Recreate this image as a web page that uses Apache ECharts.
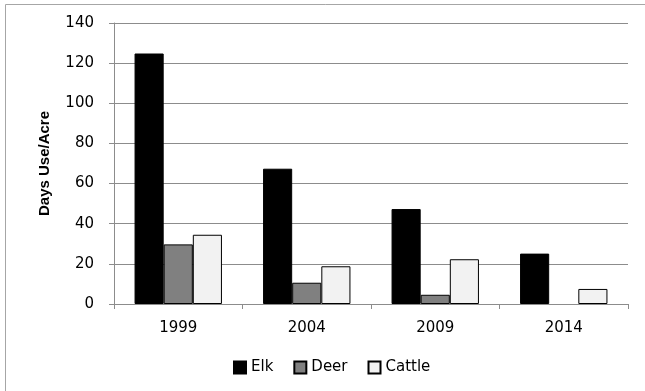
<!DOCTYPE html>
<html>
<head>
<meta charset="utf-8">
<script src="https://cdn.jsdelivr.net/npm/echarts@6/dist/echarts.min.js"></script>
<style>html,body{margin:0;padding:0;background:#fff}#c{width:645px;height:391px}</style>
</head>
<body>
<div id="c"></div>
<script>
const categories = ['1999', '2004', '2009', '2014'];
const elk = [124.8, 67.4, 47.3, 25.1];
const deer = [29.7, 10.6, 4.6, null];
const cattle = [34.5, 18.8, 22.3, 7.5];
const seriesNames = ['Elk', 'Deer', 'Cattle'];
const yTicks = { min: 0, max: 140, interval: 20 };

const chart = echarts.init(document.getElementById('c'), null, { renderer: 'canvas' });
const font = 'DejaVu Sans';
const gridColor = '#8c8c8c';
const colors = ['#000000', '#808080', '#f2f2f2'];
const seriesData = [elk, deer, cattle];

chart.setOption({
  animation: false,
  backgroundColor: '#ffffff',
  textStyle: { fontFamily: font },
  graphic: [{
    type: 'rect',
    shape: { x: 5.5, y: 4.5, width: 700, height: 500 },
    style: { fill: 'none', stroke: '#a6a6a6', lineWidth: 1 },
    silent: true
  }],
  grid: { left: 114, right: 17, top: 23, bottom: 87 },
  legend: {
    data: seriesNames,
    bottom: 11,
    left: 228,
    itemWidth: 12,
    itemHeight: 12,
    itemGap: 20,
    icon: 'rect',
    textStyle: { fontFamily: font, fontSize: 15, color: '#000', padding: [0, 0, 0, 0] }
  },
  xAxis: {
    type: 'category',
    data: categories,
    axisLine: { lineStyle: { color: gridColor, width: 1 } },
    axisTick: { show: true, length: 5, lineStyle: { color: gridColor } },
    axisLabel: { fontFamily: font, fontSize: 15, color: '#000', margin: 17 }
  },
  yAxis: {
    type: 'value',
    min: yTicks.min,
    max: yTicks.max,
    interval: yTicks.interval,
    name: 'Days Use/Acre',
    nameLocation: 'middle',
    nameGap: 62,
    nameTextStyle: { fontFamily: 'Liberation Sans', fontWeight: 'bold', fontSize: 15, color: '#000' },
    axisLine: { show: true, lineStyle: { color: gridColor, width: 1 } },
    axisTick: { show: true, length: 5, lineStyle: { color: gridColor } },
    axisLabel: { fontFamily: font, fontSize: 15, color: '#000', margin: 20 },
    splitLine: { show: true, lineStyle: { color: gridColor, width: 1 } }
  },
  series: seriesNames.map((name, i) => ({
    name: name,
    type: 'bar',
    data: seriesData[i],
    barGap: '0%',
    barCategoryGap: '32%',
    itemStyle: { color: colors[i], borderColor: '#000', borderWidth: 1 }
  }))
});
</script>
</body>
</html>
